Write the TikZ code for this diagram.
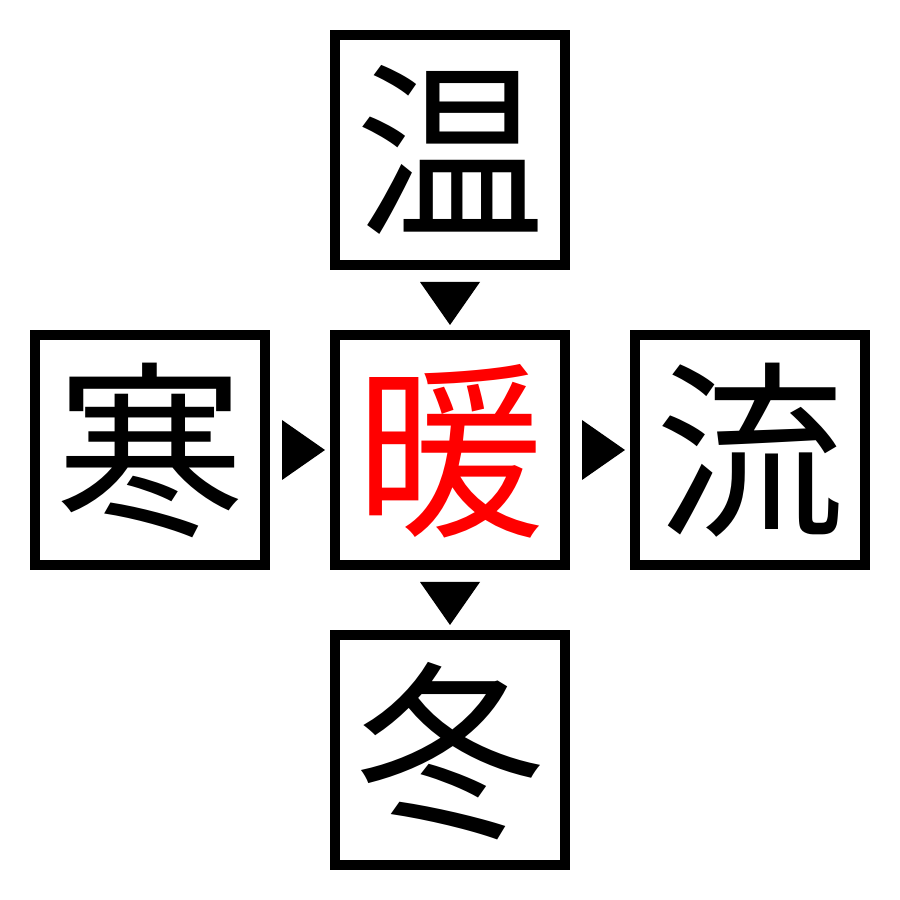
\documentclass[tikz,border=0pt]{standalone}
\usepackage{fontspec}
\newfontfamily\cjk{Noto Sans CJK JP}
\usetikzlibrary{calc}
\tikzset{kanji/.style={draw, line width=1mm, minimum size=2.3cm, inner sep=0pt, outer sep=0pt,
  font=\cjk\fontsize{54pt}{54pt}\selectfont, text height=47.5pt, text depth=6.5pt}}

\begin{document}
\begin{tikzpicture}
	%%%%% START %%%%%
	\useasboundingbox (0, 0) rectangle (9, 9);
	
	\node[kanji] (wen) at (4.5, 7.5) {温};
	\node[kanji] (han) at (1.5, 4.5) {寒};
	\node[kanji, text=red] (nuan) at (4.5, 4.5) {暖};
	\node[kanji] (liu) at (7.5, 4.5) {流};
	\node[kanji] (dong) at (4.5, 1.5) {冬};
	
	\fill ($(wen.south)+(-0.3, -0.17)$) -- ($(wen.south)+(0.3, -0.17)$) -- ($(nuan.north)+(0, 0.1)$) -- cycle;
	\fill ($(nuan.south)+(-0.3, -0.17)$) -- ($(nuan.south)+(0.3, -0.17)$) -- ($(dong.north)+(0, 0.1)$) -- cycle;
	\fill ($(han.east)+(0.17, 0.3)$) -- ($(han.east)+(0.17, -0.3)$) -- ($(nuan.west)+(-0.1, 0)$) -- cycle;
	\fill ($(nuan.east)+(0.17, 0.3)$) -- ($(nuan.east)+(0.17, -0.3)$) -- ($(liu.west)+(-0.1, 0)$) -- cycle;
	%%%%% END %%%%%
\end{tikzpicture}
\end{document}
